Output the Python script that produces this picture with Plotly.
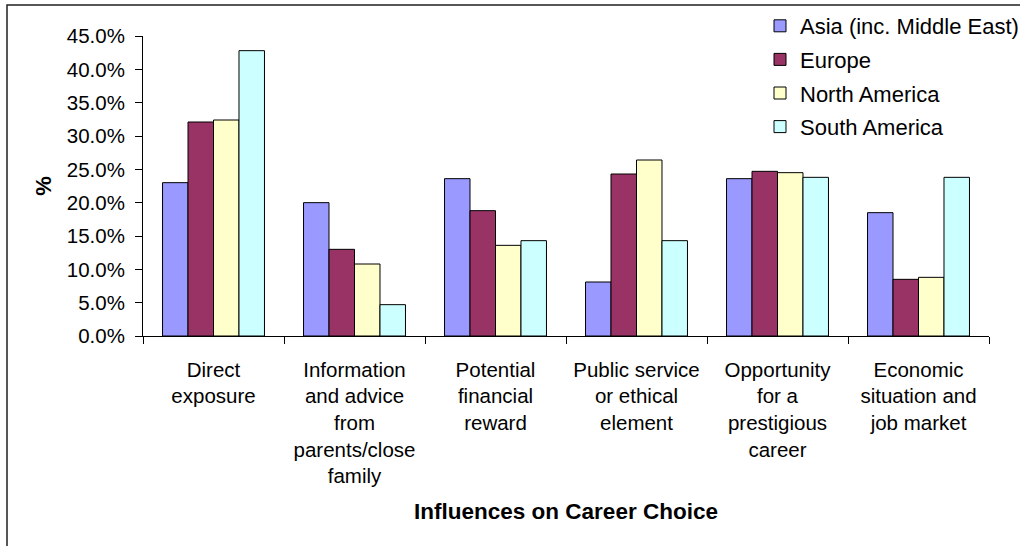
import plotly.graph_objects as go

# Survey results: share of respondents citing each influence, by region (%)
categories = [
    "Direct<br>exposure",
    "Information<br>and advice<br>from<br>parents/close<br>family",
    "Potential<br>financial<br>reward",
    "Public service<br>or ethical<br>element",
    "Opportunity<br>for a<br>prestigious<br>career",
    "Economic<br>situation and<br>job market",
]
asia = [23.0, 20.0, 23.6, 8.1, 23.6, 18.5]
europe = [32.1, 13.0, 18.8, 24.3, 24.7, 8.5]
north_america = [32.4, 10.8, 13.6, 26.4, 24.5, 8.8]
south_america = [42.8, 4.7, 14.3, 14.3, 23.8, 23.8]

y_ticks = [0, 5, 10, 15, 20, 25, 30, 35, 40, 45]
y_tick_text = [f"{v:.1f}%" for v in y_ticks]

series = [
    ("Asia (inc. Middle East)", asia, "#9999FF"),
    ("Europe", europe, "#993366"),
    ("North America", north_america, "#FFFFCC"),
    ("South America", south_america, "#CCFFFF"),
]

FONT = "Liberation Sans, Arial, sans-serif"
W, H = 1020, 546
L, R, T, B = 143, 31, 36, 210
pw, ph = W - L - R, H - T - B

fig = go.Figure()
for name, vals, color in series:
    fig.add_trace(go.Bar(
        x=categories, y=vals, name=name, legendgroup=name,
        marker=dict(color=color, line=dict(color="black", width=1)),
    ))

# Outer chart frame (runs past the right and bottom edges of the page)
fig.add_shape(
    type="rect", xref="paper", yref="paper",
    x0=(7 - L) / pw, x1=(W + 10 - L) / pw,
    y0=-(H + 10 - T - ph) / ph, y1=(H - B - 5) / ph,
    line=dict(color="#202020", width=1.5), fillcolor="rgba(0,0,0,0)",
    layer="below",
)

fig.update_layout(
    width=W, height=H,
    margin=dict(l=L, r=R, t=T, b=B, autoexpand=False),
    paper_bgcolor="white", plot_bgcolor="white",
    font=dict(family=FONT, color="black", size=20),
    barmode="group", bargap=0.277, bargroupgap=0,
    showlegend=True,
    legend=dict(
        x=(760 - L) / pw, xanchor="left",
        y=(H - B - 5) / ph, yanchor="top",
        traceorder="grouped", tracegroupgap=2,
        font=dict(family=FONT, size=22, color="black"),
        bgcolor="rgba(0,0,0,0)", borderwidth=0,
    ),
    xaxis=dict(
        type="category", tickson="boundaries",
        ticks="outside", ticklen=7, tickcolor="black",
        showline=True, linecolor="black", linewidth=1,
        showgrid=False, zeroline=False, tickangle=0,
        tickfont=dict(family=FONT, size=20.5),
        ticklabelstandoff=15,
        title=dict(text="<b>Influences on Career Choice</b>",
                   font=dict(family=FONT, size=22.5), standoff=17),
        automargin=False,
    ),
    yaxis=dict(
        range=[0, 45], tickmode="array",
        tickvals=y_ticks, ticktext=y_tick_text,
        ticks="outside", ticklen=7, tickcolor="black",
        showline=True, linecolor="black", linewidth=1,
        showgrid=False, zeroline=False,
        tickfont=dict(family=FONT, size=20.5),
        ticklabelstandoff=6,
        title=dict(text="<b>%</b>", font=dict(family=FONT, size=22), standoff=9),
        automargin=False,
    ),
)

fig.write_html("out.html")
